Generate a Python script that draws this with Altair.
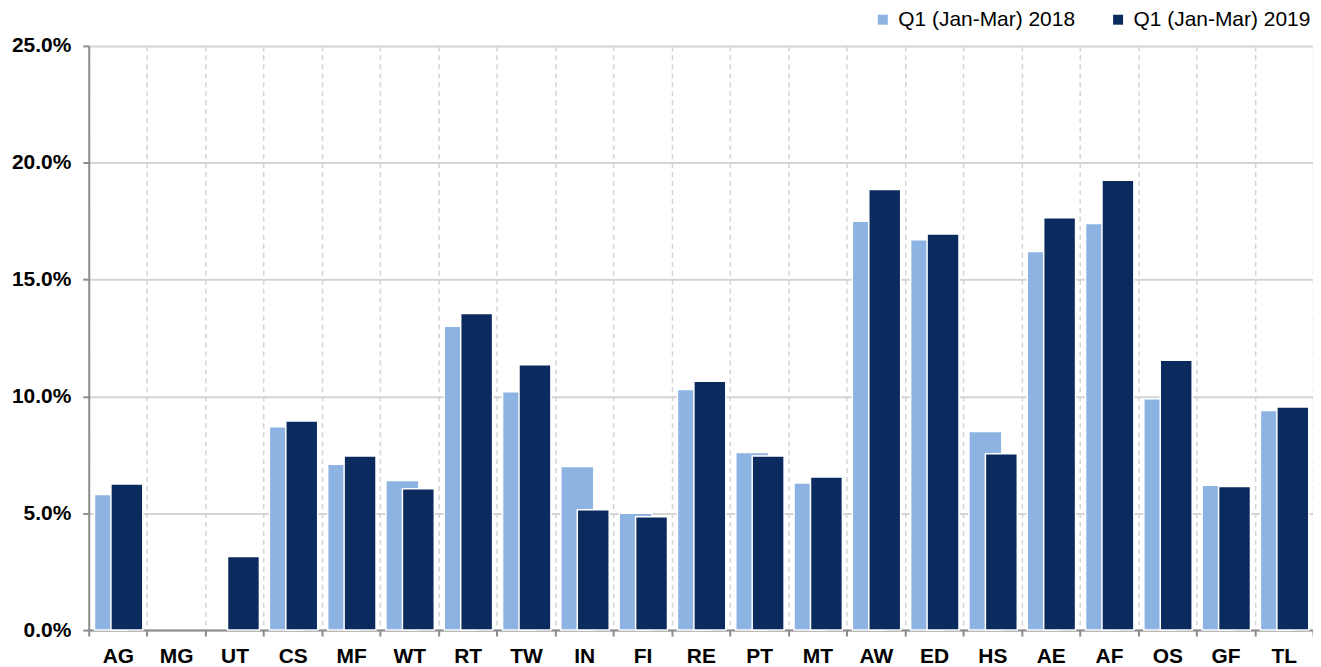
import altair as alt
import pandas as pd

categories = ["AG", "MG", "UT", "CS", "MF", "WT", "RT", "TW", "IN", "FI", "RE",
              "PT", "MT", "AW", "ED", "HS", "AE", "AF", "OS", "GF", "TL"]
q1_2018 = [5.8, 0.0, 0.0, 8.7, 7.1, 6.4, 13.0, 10.2, 7.0, 5.0, 10.3,
           7.6, 6.3, 17.5, 16.7, 8.5, 16.2, 17.4, 9.9, 6.2, 9.4]
q1_2019 = [6.25, 0.0, 3.15, 8.95, 7.45, 6.05, 13.55, 11.35, 5.15, 4.85, 10.65,
           7.45, 6.55, 18.85, 16.95, 7.55, 17.65, 19.25, 11.55, 6.15, 9.55]
series = ["Q1 (Jan-Mar) 2018", "Q1 (Jan-Mar) 2019"]
colors = ["#8DB3E2", "#0B2A5E"]

rows = []
for c, a, b in zip(categories, q1_2018, q1_2019):
    rows.append({"cat": c, "series": series[0], "value": a / 100})
    rows.append({"cat": c, "series": series[1], "value": b / 100})
df = pd.DataFrame(rows)

FONT = "Liberation Sans"

x = alt.X("cat:N", sort=categories, title=None,
          scale=alt.Scale(domain=categories, paddingInner=0, paddingOuter=0),
          axis=alt.Axis(labelAngle=0, labelFont=FONT, labelFontSize=21,
                        labelFontWeight="bold", labelColor="#000000",
                        labelPadding=9, tickBand="extent", tickSize=6,
                        tickColor="#8c8c8c", tickWidth=2,
                        domainColor="#8c8c8c", domainWidth=2,
                        grid=True, gridColor="#d4d4d4", gridDash=[5, 4],
                        gridWidth=1.5))
y = alt.Y("value:Q", title=None,
          scale=alt.Scale(domain=[0, 0.25], nice=False),
          axis=alt.Axis(format=".1%", values=[0, 0.05, 0.10, 0.15, 0.20, 0.25],
                        labelFont=FONT, labelFontSize=21, labelFontWeight="bold",
                        labelColor="#000000", labelPadding=12, tickSize=6,
                        tickColor="#8c8c8c", tickWidth=2,
                        domainColor="#8c8c8c", domainWidth=2,
                        grid=True, gridColor="#d4d4d4", gridWidth=2))
color = alt.Color("series:N",
                  scale=alt.Scale(domain=series, range=colors),
                  legend=alt.Legend(title=None, orient="none", direction="horizontal",
                                    legendX=786, legendY=-37,
                                    symbolType="square", symbolSize=100,
                                    symbolStrokeWidth=0, labelFont=FONT,
                                    labelFontSize=21, labelColor="#000000",
                                    labelLimit=400, labelOffset=5, columnPadding=32))

base = alt.Chart(df).encode(x=x, y=y, color=color).transform_filter(
    alt.datum.value > 0)

light = base.transform_filter(alt.datum.series == series[0]).mark_bar(
    width=33, xOffset=-7, stroke="white", strokeWidth=1.5)
dark = base.transform_filter(alt.datum.series == series[1]).mark_bar(
    width=32, xOffset=9, stroke="white", strokeWidth=1.5)

chart = alt.layer(light, dark).properties(
    width=1228, height=586,
    autosize=alt.AutoSizeParams(type="none"),
    padding={"left": 81, "top": 37, "right": 0, "bottom": 36},
    background="white",
).configure_view(stroke=None)

chart.save("out.html", embed_options={"renderer": "svg", "actions": False})
